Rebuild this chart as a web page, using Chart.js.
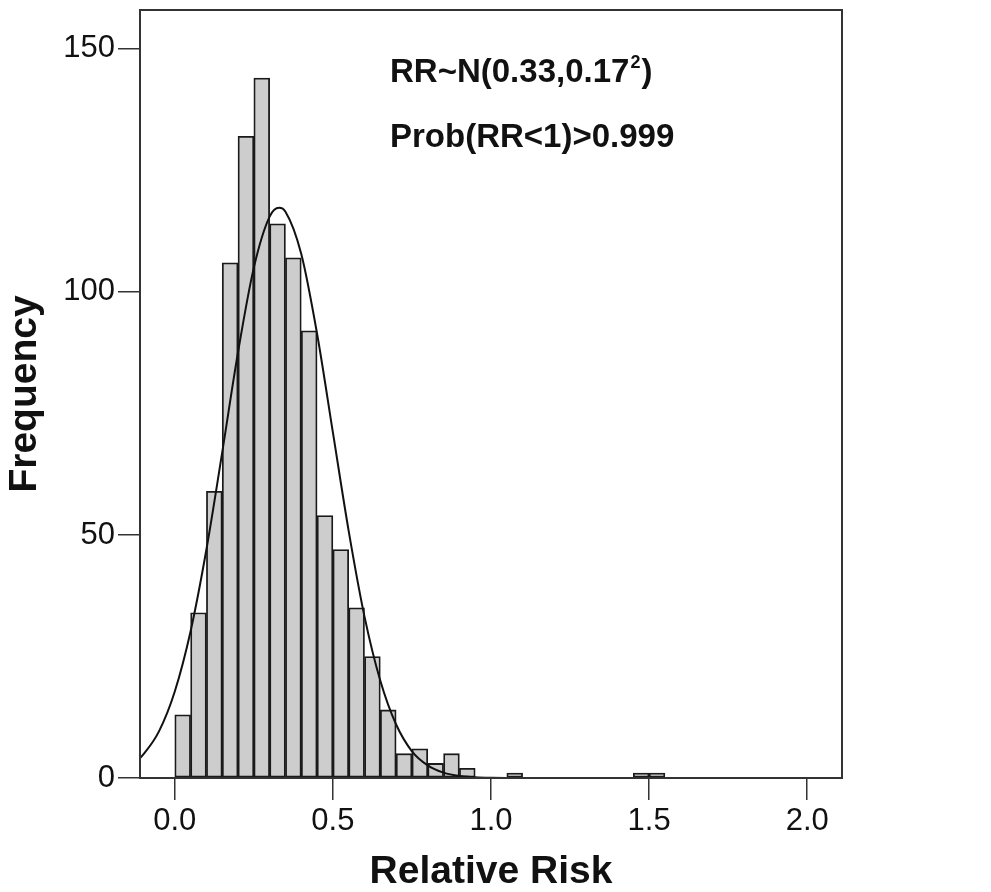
<!DOCTYPE html>
<html>
<head>
<meta charset="utf-8">
<script src="https://cdn.jsdelivr.net/npm/chart.js@4/dist/chart.umd.min.js"></script>
<style>
    html, body { margin: 0; padding: 0; background: #fff; }
    #wrap { width: 991px; height: 892px; }
</style>
</head>
<body>
<div id="wrap"><canvas id="rrChart" width="991" height="892"></canvas></div>
<script>
// histogram bins (left edge, width 0.05) and counts
const binLefts = [0.00, 0.05, 0.10, 0.15, 0.20, 0.25, 0.30, 0.35, 0.40, 0.45,
    0.50, 0.55, 0.60, 0.65, 0.70, 0.75, 0.80, 0.85, 0.90, 0.95,
    1.00, 1.05, 1.10, 1.15, 1.20, 1.25, 1.30, 1.35, 1.40, 1.45, 1.50];
const binCounts = [13, 34, 59, 106, 132, 144, 114, 107, 92, 54,
    47, 35, 25, 14, 5, 6, 3, 5, 2, 0,
    0, 1, 0, 0, 0, 0, 0, 0, 0, 1, 1];
const binWidth = 0.05;

// fitted normal curve
const curveX = [-0.11, -0.10, -0.05, 0.00, 0.05, 0.10, 0.15, 0.20, 0.25, 0.30, 0.33, 0.35,
    0.40, 0.45, 0.50, 0.55, 0.60, 0.65, 0.70, 0.75, 0.80, 0.85, 0.90, 0.95, 1.00, 1.10];
const curveY = [4.1, 4.8, 9.6, 17.8, 30.2, 47.0, 67.0, 87.6, 105.0, 115.5, 117.3, 116.5,
    107.8, 91.4, 71.1, 50.8, 33.2, 20.0, 11.0, 5.5, 2.6, 1.1, 0.4, 0.15, 0.05, 0];

const xTicks = [0.0, 0.5, 1.0, 1.5, 2.0];
const yTicks = [0, 50, 100, 150];

const annotationLines = ['RR~N(0.33,0.17', 'Prob(RR<1)>0.999'];

const fontFamily = '"Liberation Sans", Arial, Helvetica, sans-serif';

const frameAndText = {
    id: 'frameAndText',
    afterDatasetsDraw(chart) {
        const ctx = chart.ctx;
        const a = chart.chartArea;
        ctx.save();
        ctx.strokeStyle = '#333';
        ctx.lineWidth = 2;
        ctx.strokeRect(a.left, a.top, a.right - a.left, a.bottom - a.top);

        ctx.fillStyle = '#111';
        ctx.textBaseline = 'alphabetic';
        ctx.textAlign = 'left';
        ctx.font = 'bold 33px ' + fontFamily;
        const x0 = 390;
        ctx.fillText(annotationLines[0], x0, 82);
        let w = ctx.measureText(annotationLines[0]).width;
        ctx.font = 'bold 18px ' + fontFamily;
        ctx.fillText('2', x0 + w + 1, 68);
        const w2 = ctx.measureText('2').width;
        ctx.font = 'bold 33px ' + fontFamily;
        ctx.fillText(')', x0 + w + w2 + 2, 82);
        ctx.fillText(annotationLines[1], x0, 147);
        ctx.restore();
    }
};

const ctx = document.getElementById('rrChart').getContext('2d');
const rrChart = new Chart(ctx, {
    type: 'bar',
    data: {
        datasets: [{
            type: 'line',
            label: 'Normal fit',
            data: curveX.map((x, i) => ({ x: x, y: curveY[i] })),
            borderColor: '#111',
            borderWidth: 2,
            pointRadius: 0,
            fill: false,
            cubicInterpolationMode: 'monotone',
            order: 0
        }, {
            type: 'bar',
            label: 'Frequency',
            data: binLefts.map((x, i) => ({ x: x + binWidth / 2, y: binCounts[i] > 0 ? binCounts[i] : null })),
            backgroundColor: '#cdcdcd',
            borderColor: '#1a1a1a',
            borderWidth: 1.8,
            borderSkipped: false,
            barPercentage: 1.0,
            categoryPercentage: 1.0,
            order: 1
        }]
    },
    options: {
        responsive: false,
        animation: false,
        devicePixelRatio: 1,
        layout: {
            padding: { left: 0, top: 10, right: 149, bottom: 0 }
        },
        plugins: {
            legend: { display: false },
            tooltip: { enabled: false }
        },
        scales: {
            x: {
                type: 'linear',
                min: -0.11,
                max: 2.11,
                offset: false,
                afterBuildTicks: function (scale) {
                    scale.ticks = xTicks.map(v => ({ value: v }));
                },
                afterFit: function (scale) {
                    scale.height = 114;
                    scale.paddingLeft = 0;
                    scale.paddingRight = 0;
                },
                grid: {
                    display: true,
                    offset: false,
                    drawOnChartArea: false,
                    drawTicks: true,
                    tickLength: 22,
                    color: '#333',
                    lineWidth: 1.5
                },
                border: { display: false },
                ticks: {
                    autoSkip: false,
                    maxRotation: 0,
                    padding: 3,
                    color: '#111',
                    font: { family: fontFamily, size: 31 },
                    callback: function (value) {
                        return Number(value).toFixed(1);
                    }
                },
                title: {
                    display: true,
                    text: 'Relative Risk',
                    color: '#111',
                    padding: { top: 0, bottom: 0 },
                    font: { family: fontFamily, size: 39, weight: 'bold', lineHeight: 1.0 }
                }
            },
            y: {
                min: 0,
                max: 158,
                afterBuildTicks: function (scale) {
                    scale.ticks = yTicks.map(v => ({ value: v }));
                },
                afterFit: function (scale) {
                    scale.width = 140;
                    scale.paddingTop = 0;
                    scale.paddingBottom = 0;
                },
                grid: {
                    display: true,
                    offset: false,
                    drawOnChartArea: false,
                    drawTicks: true,
                    tickLength: 22,
                    color: '#333',
                    lineWidth: 1.5
                },
                border: { display: false },
                ticks: {
                    padding: 3,
                    color: '#111',
                    font: { family: fontFamily, size: 31 }
                },
                title: {
                    display: true,
                    text: 'Frequency',
                    color: '#111',
                    padding: { top: 6, bottom: 0 },
                    font: { family: fontFamily, size: 39, weight: 'bold', lineHeight: 1.0 }
                }
            }
        }
    },
    plugins: [frameAndText]
});
</script>
</body>
</html>
